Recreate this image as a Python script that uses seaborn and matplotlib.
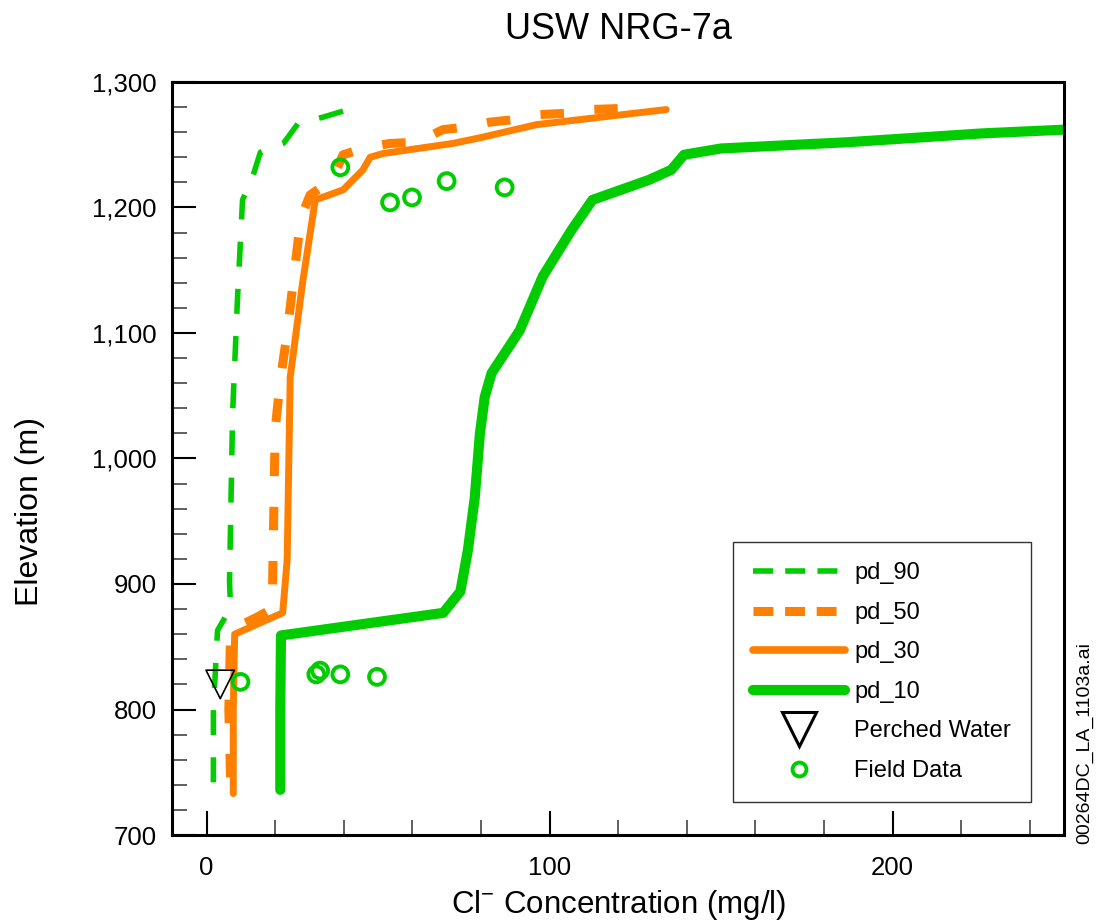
import numpy as np
import pandas as pd
import matplotlib
matplotlib.use("Agg")
import matplotlib.pyplot as plt
import seaborn as sns
from matplotlib.ticker import MultipleLocator, FuncFormatter
from matplotlib.lines import Line2D

# profiles (Cl mg/l vs elevation m)
pd10_cl = [21.5, 21.5, 21.7, 69.0, 74.0, 76.2, 78.2, 79.7, 81.1, 83.1, 91.3, 98.0, 106.4,
           112.5, 129.0, 135.5, 139.2, 150.0, 187.0, 226.0, 250.0]
pd10_el = [736, 800, 859, 877, 894, 927, 969, 1020, 1049, 1068, 1102, 1145, 1182,
           1206, 1222, 1230, 1242, 1247, 1252, 1259, 1262]

pd30_cl = [7.8, 7.8, 8.2, 22.2, 23.5, 24.4, 28.0, 31.7, 39.8, 45.6, 47.7, 51.5, 71.8,
           80.5, 96.2, 134.0]
pd30_el = [733, 800, 860, 877, 919, 1065, 1140, 1206, 1214, 1230, 1240, 1243, 1251,
           1256, 1266, 1278]

pd50_cl = [7.0, 6.5, 7.0, 8.4, 15.0, 19.0, 19.2, 20.0, 21.5, 23.5, 27.5, 30.2, 36.6,
           39.8, 46.8, 53.5, 61.3, 68.9, 75.3, 82.6, 89.8, 97.0, 105.0, 111.6, 122.0]
pd50_el = [746, 800, 860, 865, 874, 880, 890, 1023, 1062, 1100, 1192, 1210, 1222,
           1242, 1248, 1251, 1252, 1262, 1264, 1268, 1270, 1274, 1275, 1278, 1279]

pd90_cl = [2.0, 2.0, 3.2, 7.0, 6.7, 7.6, 9.0, 10.5, 13.4, 15.7, 22.4, 26.7, 34.0, 41.3]
pd90_el = [742, 800, 863, 881, 902, 1036, 1126, 1206, 1224, 1244, 1251, 1267, 1272, 1278]

field_cl = [39.0, 53.5, 59.9, 70.0, 86.9, 9.9, 32.0, 33.1, 39.0, 49.7]
field_el = [1232, 1204, 1208, 1221, 1216, 822, 828, 831, 828, 826]

perched_cl = [4.0]
perched_el = [820]

green = "#00CC00"
orange = "#FF8000"

sns.set_theme(style="ticks")
plt.rcParams['font.family'] = ['Liberation Sans', 'DejaVu Sans']
plt.rcParams['text.color'] = 'black'
plt.rcParams['axes.labelcolor'] = 'black'

fig = plt.figure(figsize=(10.97, 9.24), dpi=100)
ax = fig.add_axes([0.157, 0.0963, 0.813, 0.815])

sns.lineplot(x=pd90_cl, y=pd90_el, sort=False, estimator=None, ax=ax,
             color=green, lw=4, dashes=False)
ax.lines[-1].set_dashes((4.5, 4))
sns.lineplot(x=pd50_cl, y=pd50_el, sort=False, estimator=None, ax=ax,
             color=orange, lw=6.5, dashes=False)
ax.lines[-1].set_dashes((2.6, 3.4))
sns.lineplot(x=pd30_cl, y=pd30_el, sort=False, estimator=None, ax=ax,
             color=orange, lw=5)
sns.lineplot(x=pd10_cl, y=pd10_el, sort=False, estimator=None, ax=ax,
             color=green, lw=7.3)
sns.scatterplot(x=field_cl, y=field_el, ax=ax, marker="o", s=130,
                facecolor="none", edgecolor=green, linewidth=2.8, zorder=5)
sns.scatterplot(x=perched_cl, y=perched_el, ax=ax, marker="v", s=420,
                facecolor="none", edgecolor="black", linewidth=1.2, zorder=6)

ax.set_xlim(-10, 250)
ax.set_ylim(700, 1300)
ax.xaxis.set_major_locator(MultipleLocator(100))
ax.xaxis.set_minor_locator(MultipleLocator(20))
ax.yaxis.set_major_locator(MultipleLocator(100))
ax.yaxis.set_minor_locator(MultipleLocator(20))
ax.yaxis.set_major_formatter(FuncFormatter(lambda v, p: f"{int(v):,}"))
ax.tick_params(which="major", direction="in", length=17, width=1.5, labelsize=18.5,
               colors="black")
ax.tick_params(axis="y", which="major", pad=11)
ax.tick_params(axis="x", which="major", pad=15)
ax.tick_params(which="minor", direction="in", length=11, width=1.2, color="#444444")
for s in ax.spines.values():
    s.set_linewidth(2.2)
    s.set_color("black")

ax.set_xlabel(r"Cl$^{\mathregular{-}}$ Concentration (mg/l)", fontsize=22.5, labelpad=6)
ax.set_ylabel("Elevation (m)", fontsize=23)
ax.yaxis.set_label_coords(-0.143, 0.43)
ax.set_title("USW NRG-7a", fontsize=26, pad=31)

handles = [
    Line2D([], [], color=green, lw=4, dashes=(3.6, 2.2)),
    Line2D([], [], color=orange, lw=6.5, dashes=(2.2, 1.3)),
    Line2D([], [], color=orange, lw=5.5, solid_capstyle="round"),
    Line2D([], [], color=green, lw=7.3, solid_capstyle="round"),
    Line2D([], [], ls="none", marker="v", ms=24, mfc="none", mec="black", mew=2.2),
    Line2D([], [], ls="none", marker="o", ms=10, mfc="none", mec=green, mew=2.8),
]
labels = ["pd_90", "pd_50", "pd_30", "pd_10", "Perched Water", "Field Data"]
leg = ax.legend(handles, labels, loc="lower right", bbox_to_anchor=(0.963, 0.044),
                fontsize=17, frameon=True, fancybox=False, handlelength=3.9,
                handletextpad=0.4, labelspacing=0.74, borderpad=0.85,
                borderaxespad=0)
leg.get_frame().set_edgecolor("black")
leg.get_frame().set_linewidth(1.0)

fig.text(0.989, 0.196, "00264DC_LA_1103a.ai", rotation=90, fontsize=14,
         ha="center", va="center")

fig.savefig("out.png", dpi=100)
